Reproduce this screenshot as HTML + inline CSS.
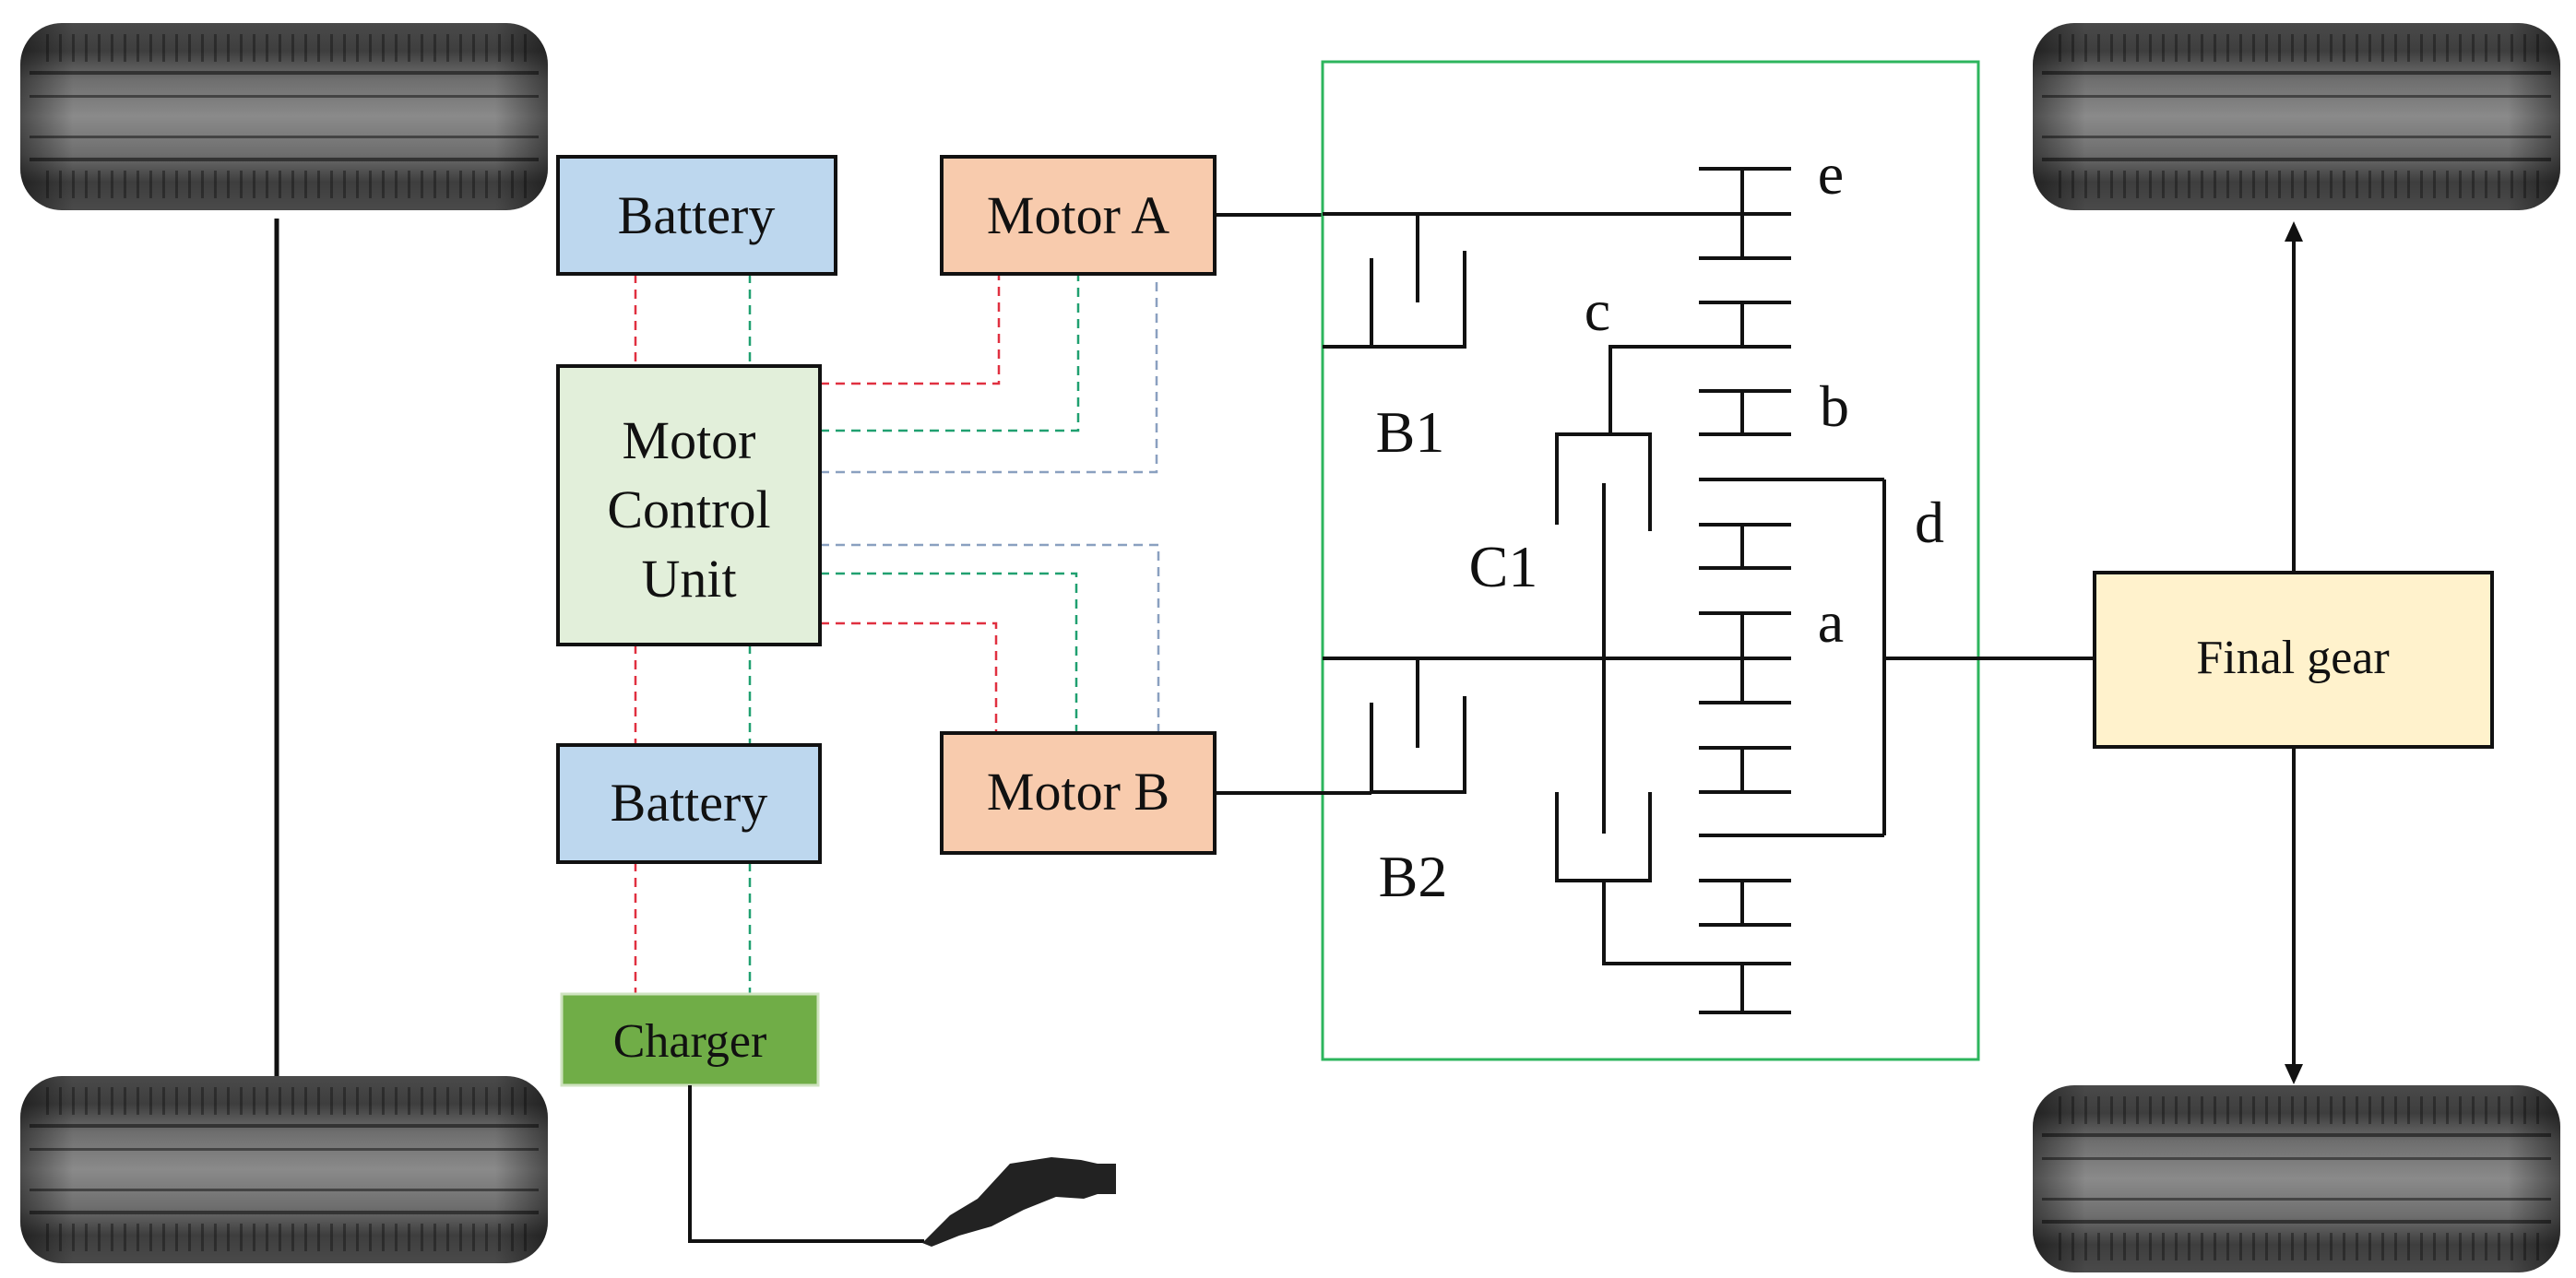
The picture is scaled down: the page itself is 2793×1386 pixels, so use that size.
<!DOCTYPE html>
<html><head><meta charset="utf-8"><style>
html,body{margin:0;padding:0;background:#fff;}
svg{display:block;}
text{font-family:"Liberation Serif",serif;fill:#111;}
</style></head><body>
<svg width="2793" height="1386" viewBox="0 0 2793 1386" xmlns="http://www.w3.org/2000/svg">
<defs>
<linearGradient id="tg" x1="0" y1="0" x2="0" y2="1">
<stop offset="0" stop-color="#4a4a4a"/><stop offset="0.15" stop-color="#3e3e3e"/>
<stop offset="0.3" stop-color="#6e6e6e"/><stop offset="0.5" stop-color="#8a8a8a"/>
<stop offset="0.7" stop-color="#6e6e6e"/><stop offset="0.85" stop-color="#3e3e3e"/><stop offset="1" stop-color="#4a4a4a"/>
</linearGradient>
<linearGradient id="th" x1="0" y1="0" x2="1" y2="0">
<stop offset="0" stop-color="#000" stop-opacity="0.45"/><stop offset="0.1" stop-color="#000" stop-opacity="0"/>
<stop offset="0.9" stop-color="#000" stop-opacity="0"/><stop offset="1" stop-color="#000" stop-opacity="0.45"/>
</linearGradient>
<pattern id="sipe" width="14" height="10" patternUnits="userSpaceOnUse">
<rect x="0" y="0" width="3" height="10" fill="#111" opacity="0.45"/>
</pattern>
<g id="tire">
<rect x="0" y="0" width="572" height="203" rx="45" fill="url(#tg)"/>
<rect x="20" y="12" width="532" height="30" fill="url(#sipe)"/>
<rect x="20" y="160" width="532" height="30" fill="url(#sipe)"/>
<rect x="10" y="52" width="552" height="4" fill="#333"/>
<rect x="10" y="78" width="552" height="3" fill="#444"/>
<rect x="10" y="122" width="552" height="3" fill="#444"/>
<rect x="10" y="146" width="552" height="4" fill="#333"/>
<rect x="0" y="0" width="572" height="203" rx="45" fill="url(#th)"/>
</g>
</defs>

<use href="#tire" x="22" y="25"/>
<use href="#tire" x="22" y="1167"/>
<use href="#tire" x="2204" y="25"/>
<use href="#tire" x="2204" y="1177"/>

<line x1="300" y1="237" x2="300" y2="1167" stroke="#111" stroke-width="5"/>

<g fill="none" stroke-width="2.5" stroke-dasharray="10,7">
<line x1="689" y1="297" x2="689" y2="397" stroke="#e03040"/>
<line x1="813" y1="297" x2="813" y2="397" stroke="#20a070"/>
<line x1="689" y1="699" x2="689" y2="808" stroke="#e03040"/>
<line x1="813" y1="699" x2="813" y2="808" stroke="#20a070"/>
<line x1="689" y1="935" x2="689" y2="1078" stroke="#e03040"/>
<line x1="813" y1="935" x2="813" y2="1078" stroke="#20a070"/>
<polyline points="889,416 1083,416 1083,297" stroke="#e03040"/>
<polyline points="889,467 1169,467 1169,297" stroke="#20a070"/>
<polyline points="889,512 1254,512 1254,297" stroke="#8aa0c0"/>
<polyline points="889,591 1256,591 1256,795" stroke="#8aa0c0"/>
<polyline points="889,622 1167,622 1167,795" stroke="#20a070"/>
<polyline points="889,676 1080,676 1080,795" stroke="#e03040"/>
</g>

<g stroke="#111" stroke-width="4">
<rect x="605" y="170" width="301" height="127" fill="#bdd7ee"/>
<rect x="1021" y="170" width="296" height="127" fill="#f8cbad"/>
<rect x="605" y="397" width="284" height="302" fill="#e2efda"/>
<rect x="605" y="808" width="284" height="127" fill="#bdd7ee"/>
<rect x="1021" y="795" width="296" height="130" fill="#f8cbad"/>
<rect x="2271" y="621" width="431" height="189" fill="#fff2cc"/>
</g>
<rect x="609" y="1078" width="278" height="99" fill="#70ad47" stroke="#cfe3c0" stroke-width="3"/>

<g font-size="58" text-anchor="middle">
<text x="755" y="253">Battery</text>
<text x="1169" y="253">Motor A</text>
<text x="747" y="497">Motor</text>
<text x="747" y="572">Control</text>
<text x="747" y="647">Unit</text>
<text x="747" y="890">Battery</text>
<text x="1169" y="878">Motor B</text>
<text x="748" y="1146" font-size="52">Charger</text>
<text x="2486" y="730" font-size="52">Final gear</text>
</g>

<polyline points="748,1177 748,1346 1002,1346" fill="none" stroke="#111" stroke-width="4"/>
<path d="M1000,1348 L1030,1318 L1060,1300 L1095,1262 L1140,1255 L1172,1258 L1190,1262 L1210,1262 L1210,1295 L1190,1295 L1175,1300 L1145,1298 L1110,1312 L1075,1330 L1040,1340 L1010,1352 Z" fill="#222"/>

<g stroke="#111" stroke-width="4" fill="none">
<line x1="1317" y1="233" x2="1434" y2="233"/>
<line x1="1317" y1="860" x2="1434" y2="860"/>
</g>

<rect x="1434" y="67" width="711" height="1082" fill="none" stroke="#2db55d" stroke-width="3"/>

<g stroke="#111" stroke-width="4" fill="none">
<line x1="1434" y1="232" x2="1942" y2="232"/>
<line x1="1537" y1="232" x2="1537" y2="328"/>
<polyline points="1487,280 1487,376 1588,376 1588,272"/>
<line x1="1434" y1="376" x2="1487" y2="376"/>

<line x1="1434" y1="714" x2="1942" y2="714"/>
<line x1="1537" y1="714" x2="1537" y2="811"/>
<polyline points="1487,762 1487,859 1588,859 1588,755"/>
<line x1="1317" y1="860" x2="1487" y2="860"/>

<line x1="1889" y1="183" x2="1889" y2="280"/>
<line x1="1889" y1="328" x2="1889" y2="376"/>
<line x1="1889" y1="424" x2="1889" y2="471"/>
<line x1="1889" y1="569" x2="1889" y2="616"/>
<line x1="1889" y1="665" x2="1889" y2="762"/>
<line x1="1889" y1="811" x2="1889" y2="859"/>
<line x1="1889" y1="955" x2="1889" y2="1003"/>
<line x1="1889" y1="1045" x2="1889" y2="1098"/>
<g>
<line x1="1842" y1="183" x2="1942" y2="183"/>
<line x1="1842" y1="280" x2="1942" y2="280"/>
<line x1="1842" y1="328" x2="1942" y2="328"/>
<line x1="1842" y1="376" x2="1942" y2="376"/>
<line x1="1842" y1="424" x2="1942" y2="424"/>
<line x1="1842" y1="471" x2="1942" y2="471"/>
<line x1="1842" y1="520" x2="2043" y2="520"/>
<line x1="1842" y1="569" x2="1942" y2="569"/>
<line x1="1842" y1="616" x2="1942" y2="616"/>
<line x1="1842" y1="665" x2="1942" y2="665"/>
<line x1="1842" y1="762" x2="1942" y2="762"/>
<line x1="1842" y1="811" x2="1942" y2="811"/>
<line x1="1842" y1="859" x2="1942" y2="859"/>
<line x1="1842" y1="906" x2="2043" y2="906"/>
<line x1="1842" y1="955" x2="1942" y2="955"/>
<line x1="1842" y1="1003" x2="1942" y2="1003"/>
<line x1="1842" y1="1098" x2="1942" y2="1098"/>
</g>
<line x1="2043" y1="520" x2="2043" y2="906"/>
<line x1="2043" y1="714" x2="2271" y2="714"/>

<polyline points="1889,376 1746,376 1746,471"/>
<polyline points="1688,569 1688,471 1789,471 1789,576"/>
<line x1="1739" y1="524" x2="1739" y2="904"/>
<polyline points="1688,859 1688,955 1789,955 1789,859"/>
<polyline points="1739,955 1739,1045 1942,1045"/>

<line x1="2487" y1="258" x2="2487" y2="621"/>
<line x1="2487" y1="810" x2="2487" y2="1160"/>
</g>
<polygon points="2487,240 2477,262 2497,262" fill="#111"/>
<polygon points="2487,1176 2477,1154 2497,1154" fill="#111"/>

<g font-size="64" text-anchor="middle">
<text x="1985" y="210">e</text>
<text x="1732" y="358">c</text>
<text x="1989" y="462">b</text>
<text x="2092" y="588">d</text>
<text x="1985" y="696">a</text>
<text x="1529" y="490">B1</text>
<text x="1630" y="636">C1</text>
<text x="1532" y="972">B2</text>
</g>
</svg>
</body></html>
